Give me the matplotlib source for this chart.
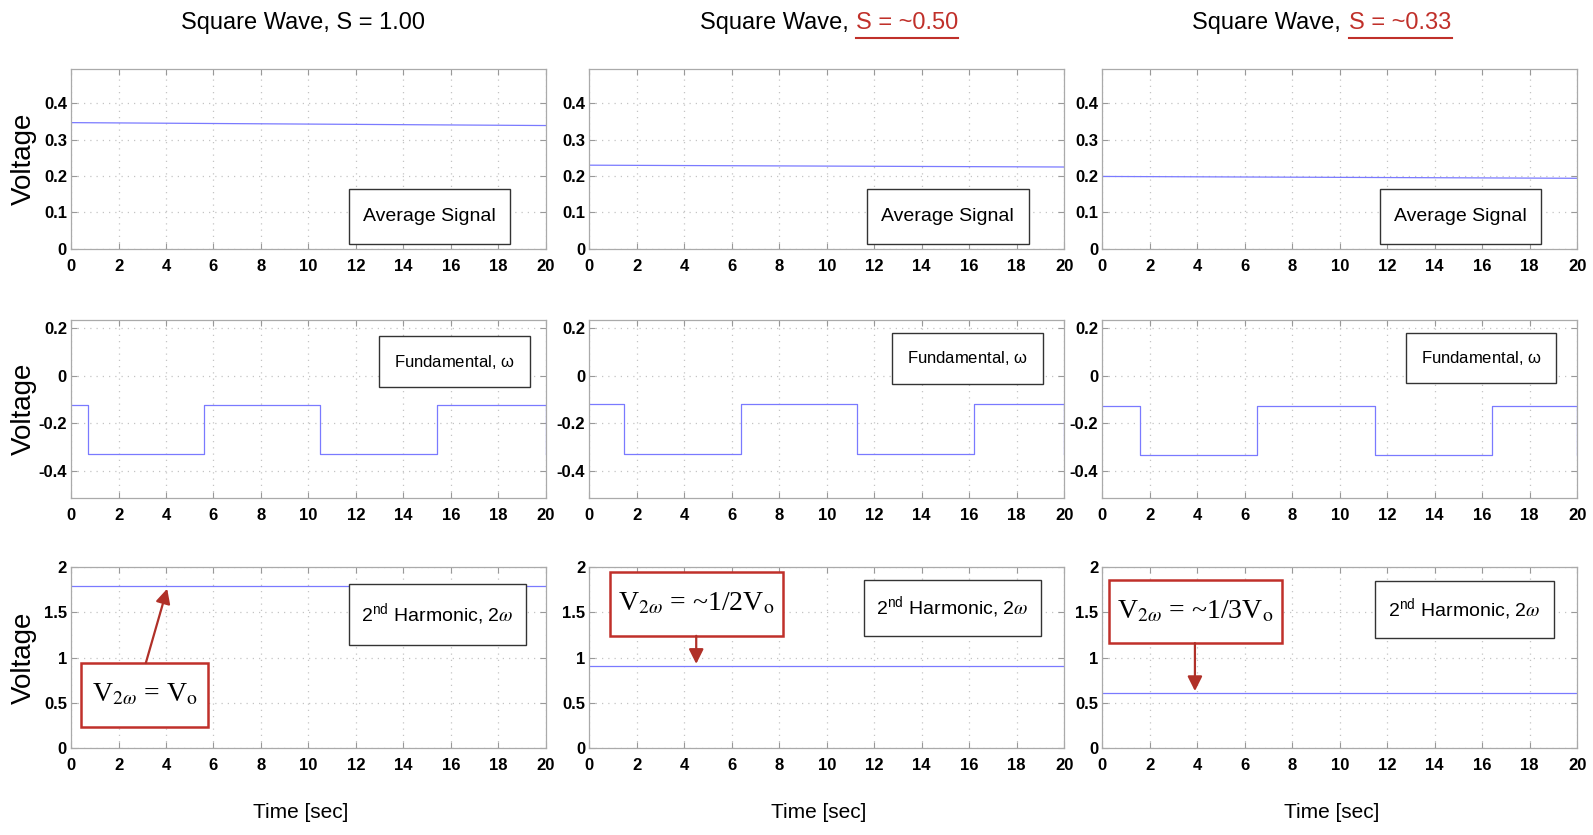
import matplotlib.pyplot as plt
from matplotlib.patches import Rectangle
from matplotlib.lines import Line2D

plt.rcParams['font.family'] = ['Liberation Sans', 'DejaVu Sans']
plt.rcParams['mathtext.fontset'] = 'stix'
SERIF = ['Liberation Serif', 'DejaVu Serif']

# values
time_span = [0, 20]
duty_labels = ['1.00', '~0.50', '~0.33']
avg_start = [0.347, 0.230, 0.199]
avg_end = [0.339, 0.225, 0.194]
fund_high = [-0.122, -0.120, -0.125]
fund_low = [-0.330, -0.330, -0.332]
fund_edges = [[0.70, 5.60, 10.50, 15.40],
              [1.45, 6.38, 11.29, 16.20],
              [1.60, 6.50, 11.50, 16.40]]
harm2 = [1.785, 0.905, 0.605]
harm2_notes = [r'V$_{2\omega}$ = V$_\mathrm{o}$',
               r'V$_{2\omega}$ = ~1/2V$_\mathrm{o}$',
               r'V$_{2\omega}$ = ~1/3V$_\mathrm{o}$']

avg_ticks = [0, 0.1, 0.2, 0.3, 0.4]
fund_ticks = [-0.4, -0.2, 0, 0.2]
harm_ticks = [0, 0.5, 1, 1.5, 2]
time_ticks = list(range(0, 21, 2))

RED = '#c0302a'
BLUE = '#7a7aff'

fig = plt.figure(figsize=(15.93, 8.35), dpi=100)

col_x = [0.0446, 0.370, 0.692]
col_w = 0.298
row_y = [0.702, 0.4036, 0.104]
row_h = [0.2156, 0.213, 0.217]


def style(ax, yticks, ylim):
    ax.set_xlim(time_span)
    ax.set_ylim(ylim)
    ax.set_xticks(time_ticks)
    ax.set_yticks(yticks)
    ax.set_yticklabels(['%g' % v for v in yticks])
    ax.grid(True, linestyle=(0, (1, 4)), color='#c4c4c4', linewidth=0.9)
    ax.set_axisbelow(True)
    ax.tick_params(direction='in', length=4, top=True, right=True,
                   labelsize=12, color='#999999')
    ax.tick_params(axis='x', pad=7)
    ax.tick_params(axis='y', pad=3)
    for lab in ax.get_xticklabels() + ax.get_yticklabels():
        lab.set_fontweight('bold')
    for s in ax.spines.values():
        s.set_color('#aaaaaa')
        s.set_linewidth(0.9)


def boxed(ax, text, x0, x1, y0, y1, size, edge='#333333', lw=1.0, family=None):
    ax.add_patch(Rectangle((x0, y0), x1 - x0, y1 - y0, transform=ax.transAxes,
                           facecolor='white', edgecolor=edge, linewidth=lw, zorder=5))
    ax.text((x0 + x1) / 2, (y0 + y1) / 2, text, transform=ax.transAxes,
            ha='center', va='center', fontsize=size, family=family, zorder=6)


fund_box_x = [(0.649, 0.966), (0.638, 0.955), (0.640, 0.955)]
fund_box_y = [(0.623, 0.909), (0.640, 0.930), (0.646, 0.926)]
harm_box_x = [(0.585, 0.959), (0.578, 0.951), (0.575, 0.951)]
harm_box_y = [(0.567, 0.904), (0.620, 0.927), (0.609, 0.922)]
red_box_x = [(0.021, 0.289), (0.043, 0.407), (0.013, 0.378)]
red_box_y = [(0.118, 0.472), (0.621, 0.972), (0.581, 0.927)]
arrow_tail = [(3.15, 0.94), (4.5, 1.24), (3.9, 1.16)]
arrow_head = [(4.05, 1.76), (4.5, 0.93), (3.9, 0.63)]

for c in range(3):
    # average signal
    ax = fig.add_axes([col_x[c], row_y[0], col_w, row_h[0]])
    ax.plot(time_span, [avg_start[c], avg_end[c]], color=BLUE, lw=0.9)
    style(ax, avg_ticks, (0, 0.495))
    boxed(ax, 'Average Signal', 0.585, 0.925, 0.025, 0.33, 14)

    # fundamental
    ax = fig.add_axes([col_x[c], row_y[1], col_w, row_h[1]])
    xs = [time_span[0]] + fund_edges[c] + [time_span[1]]
    ys = [fund_high[c] if i % 2 == 0 else fund_low[c] for i in range(len(xs))]
    ax.plot(xs, ys, color=BLUE, lw=0.9, drawstyle='steps-post')
    style(ax, fund_ticks, (-0.515, 0.235))
    boxed(ax, r'Fundamental, $\mathregular{\omega}$', fund_box_x[c][0], fund_box_x[c][1],
          fund_box_y[c][0], fund_box_y[c][1], 12)

    # 2nd harmonic
    ax = fig.add_axes([col_x[c], row_y[2], col_w, row_h[2]])
    ax.plot(time_span, [harm2[c], harm2[c]], color=BLUE, lw=0.9)
    style(ax, harm_ticks, (0, 2))
    boxed(ax, r'2$^{\mathregular{nd}}$ Harmonic, 2$\omega$', harm_box_x[c][0], harm_box_x[c][1],
          harm_box_y[c][0], harm_box_y[c][1], 14)
    boxed(ax, harm2_notes[c], red_box_x[c][0], red_box_x[c][1],
          red_box_y[c][0], red_box_y[c][1], 20, edge=RED, lw=1.8, family=SERIF)
    ax.annotate('', xy=arrow_head[c], xytext=arrow_tail[c],
                arrowprops=dict(arrowstyle='-|>', color='#b03028', lw=1.6,
                                mutation_scale=22, shrinkA=0, shrinkB=0), zorder=7)

    fig.text(col_x[c] + col_w / 2 - 0.005, 0.027, 'Time [sec]', ha='center', va='center',
             fontsize=15)

for r in range(3):
    fig.text(0.015, row_y[r] + row_h[r] / 2, 'Voltage', rotation=90, ha='center',
             va='center', fontsize=20)

# titles
fig.text(0.190, 0.972, 'Square Wave, S = ' + duty_labels[0], ha='center', va='center',
         fontsize=17)
reds = []
for split, lab in [((0.533, 0.5375), duty_labels[1]), ((0.8418, 0.847), duty_labels[2])]:
    fig.text(split[0], 0.972, 'Square Wave,', ha='right', va='center', fontsize=17)
    reds.append(fig.text(split[1], 0.972, 'S = ' + lab, ha='left', va='center',
                         fontsize=17, color=RED))

fig.canvas.draw()
inv = fig.transFigure.inverted()
for t in reds:
    bb = t.get_window_extent().transformed(inv)
    fig.add_artist(Line2D([bb.x0, bb.x1], [bb.y0 - 0.004, bb.y0 - 0.004],
                          color=RED, lw=1.5, transform=fig.transFigure))

fig.savefig('out.png', dpi=100)
